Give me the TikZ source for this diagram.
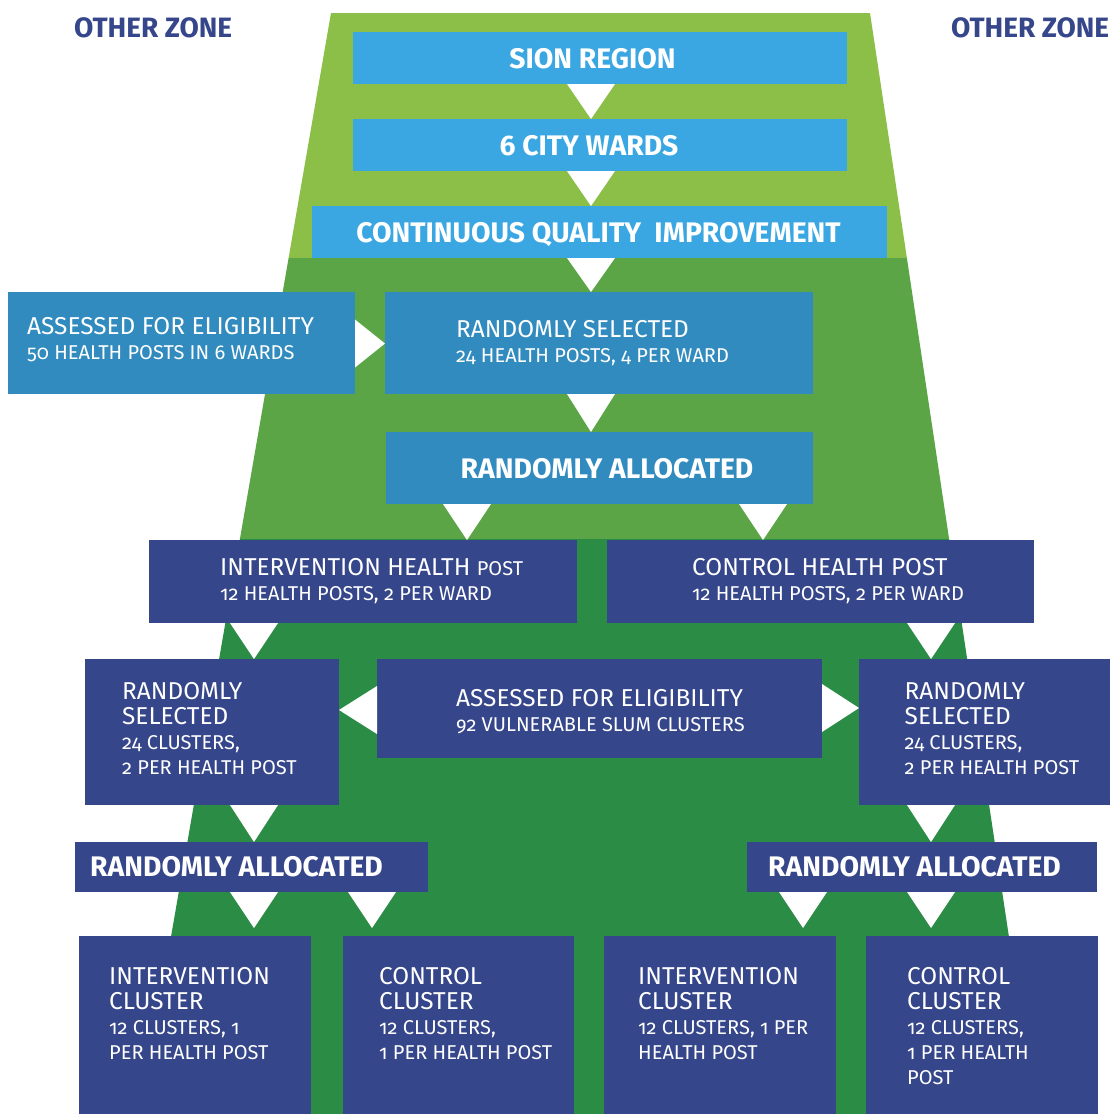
\documentclass[tikz,border=0pt]{standalone}
\usepackage{fontspec}
\setmainfont{Fira Sans}[Numbers=OldStyle]
\usepackage{tikz}
\usetikzlibrary{positioning}
\definecolor{leaf}{HTML}{8BBF47}
\definecolor{grass}{HTML}{5BA546}
\definecolor{forest}{HTML}{2B8C45}
\definecolor{sky}{HTML}{3AA7E3}
\definecolor{sea}{HTML}{318BBF}
\definecolor{ink}{HTML}{36468A}
\newcommand*{\subl}[1]{{\fontsize{20}{25}\selectfont #1}}
\newcommand*{\dtri}[3]{\fill[white] ({#1-24},0 |- #2) -- ({#1+24},0 |- #2) -- (#1,0 |- #3) -- cycle;}
\newcommand*{\stri}[3]{\fill[white] (#2 |- 0,{#1-24}) -- (#2 |- 0,{#1+24}) -- (#3 |- 0,#1) -- cycle;}

\begin{document}
\begin{tikzpicture}[x=1pt,y=-1pt,
    box/.style={inner sep=0pt,outer sep=0pt},
    skybox/.style={box,fill=sky},
    seabox/.style={box,fill=sea},
    inkbox/.style={box,fill=ink},
    bold/.style={text=white,inner sep=0pt,font=\bfseries\fontsize{28.3}{30}\selectfont},
    txt/.style={text=white,inner sep=0pt,align=left,font=\fontsize{24.4}{25}\selectfont},
    zone/.style={text=ink,inner sep=0pt,font=\bfseries\fontsize{28}{30}\selectfont}]
    \useasboundingbox (0,0) rectangle (1110,1114);

    % the zone behind
    \fill[leaf] (331,13) -- (870,13) -- (906.9,258) -- (288.6,258) -- cycle;
    \fill[grass] (288.6,258) -- (906.9,258) -- (949.1,539) -- (239.9,539) -- cycle;
    \fill[forest] (239.9,539) -- (949.1,539) -- (1035.6,1114) -- (140.3,1114) -- cycle;
    \node[zone] (zonel) at (74,37) [anchor=base west] {OTHER ZONE};
    \node[zone] (zoner) at (951,37) [anchor=base west] {OTHER ZONE};

    \node[skybox,minimum width=494pt,minimum height=52pt] (sion) at (600,58) {};
    \node[skybox,minimum width=494pt,minimum height=52pt] (wards) at (600,145) {};
    \node[skybox,minimum width=575pt,minimum height=52pt] (cqi) at (599.5,232) {};
    \node[seabox,minimum width=347pt,minimum height=102pt] (assess) at (181.5,343) {};
    \node[seabox,minimum width=428pt,minimum height=102pt] (rsel) at (599,343) {};
    \node[seabox,minimum width=427pt,minimum height=72pt] (ralloc) at (599.5,468) {};
    \node[inkbox,minimum width=428pt,minimum height=83pt] (ihp) at (363,581.5) {};
    \node[inkbox,minimum width=427pt,minimum height=83pt] (chp) at (820.5,581.5) {};
    \node[inkbox,minimum width=254pt,minimum height=146pt] (rsl) at (212,732) {};
    \node[inkbox,minimum width=445pt,minimum height=99pt] (slum) at (599.5,708.5) {};
    \node[inkbox,minimum width=251pt,minimum height=146pt] (rsr) at (984.5,732) {};
    \node[inkbox,minimum width=353pt,minimum height=50pt] (rall) at (251.5,867) {};
    \node[inkbox,minimum width=350pt,minimum height=50pt] (ralr) at (922,867) {};
    \node[inkbox,minimum width=232pt,minimum height=178pt] (icl) at (195,1025) {};
    \node[inkbox,minimum width=231pt,minimum height=178pt] (ccl) at (458.5,1025) {};
    \node[inkbox,minimum width=232pt,minimum height=178pt] (icr) at (720,1025) {};
    \node[inkbox,minimum width=232pt,minimum height=178pt] (ccr) at (982,1025) {};

    % texts
    \node[bold,anchor=base] (siontxt) at ([xshift=-7.5pt,yshift=-10pt]sion.center) {SION REGION};
    \node[bold,anchor=base] (wardstxt) at ([xshift=-11pt,yshift=-10pt]wards.center) {6 CITY WARDS};
    \node[bold,anchor=base] (cqitxt) at ([xshift=-1pt,yshift=-10pt]cqi.center) {CONTINUOUS QUALITY\ \ IMPROVEMENT};
    \node[bold,anchor=base] (ralloctxt) at ([xshift=7.5pt,yshift=-10pt]ralloc.center) {RANDOMLY ALLOCATED};
    \node[txt] (assesstxt) [below right=25pt and 19pt of assess.north west] {ASSESSED FOR ELIGIBILITY\\\subl{50 HEALTH POSTS IN 6 WARDS}};
    \node[txt] (rseltxt) [below right=28pt and 71pt of rsel.north west] {RANDOMLY SELECTED\\\subl{24 HEALTH POSTS, 4 PER WARD}};
    \node[txt] (ihptxt) [below right=18pt and 71pt of ihp.north west] {INTERVENTION HEALTH \subl{POST}\\\subl{12 HEALTH POSTS, 2 PER WARD}};
    \node[txt] (chptxt) [below right=18pt and 85pt of chp.north west] {CONTROL HEALTH POST\\\subl{12 HEALTH POSTS, 2 PER WARD}};
    \node[txt] (rsltxt) [below right=23pt and 37pt of rsl.north west] {RANDOMLY\\SELECTED\\\subl{24 CLUSTERS,}\\\subl{2 PER HEALTH POST}};
    \node[txt] (slumtxt) [below right=30pt and 79pt of slum.north west] {ASSESSED FOR ELIGIBILITY\\\subl{92 VULNERABLE SLUM CLUSTERS}};
    \node[txt] (rsrtxt) [below right=23pt and 45.5pt of rsr.north west] {RANDOMLY\\SELECTED\\\subl{24 CLUSTERS,}\\\subl{2 PER HEALTH POST}};
    \node[bold] (ralltxt) [below right=14pt and 15pt of rall.north west] {RANDOMLY ALLOCATED};
    \node[bold] (ralrtxt) [below right=14pt and 21pt of ralr.north west] {RANDOMLY ALLOCATED};
    \node[txt] (icltxt) [below right=31pt and 30pt of icl.north west] {INTERVENTION\\CLUSTER\\\subl{12 CLUSTERS, 1}\\\subl{PER HEALTH POST}};
    \node[txt] (ccltxt) [below right=31pt and 36pt of ccl.north west] {CONTROL\\CLUSTER\\\subl{12 CLUSTERS,}\\\subl{1 PER HEALTH POST}};
    \node[txt] (icrtxt) [below right=31pt and 34pt of icr.north west] {INTERVENTION\\CLUSTER\\\subl{12 CLUSTERS, 1 PER}\\\subl{HEALTH POST}};
    \node[txt] (ccrtxt) [below right=31pt and 41pt of ccr.north west] {CONTROL\\CLUSTER\\\subl{12 CLUSTERS,}\\\subl{1 PER HEALTH}\\\subl{POST}};

    % white arrow heads
    \dtri{591}{sion.south}{wards.north}
    \dtri{591}{wards.south}{cqi.north}
    \dtri{591}{cqi.south}{rsel.north}
    \dtri{591}{rsel.south}{ralloc.north}
    \dtri{467}{ralloc.south}{ihp.north}
    \dtri{763}{ralloc.south}{chp.north}
    \dtri{254}{ihp.south}{rsl.north}
    \dtri{931}{chp.south}{rsr.north}
    \dtri{254}{rsl.south}{rall.north}
    \dtri{931}{rsr.south}{ralr.north}
    \coordinate (gap) at (0,928);
    \dtri{254}{rall.south}{gap}
    \dtri{372}{rall.south}{gap}
    \dtri{803}{ralr.south}{gap}
    \dtri{931}{ralr.south}{gap}
    \stri{343.5}{assess.east}{rsel.west}
    \stri{710}{slum.west}{rsl.east}
    \stri{708}{slum.east}{rsr.west}
\end{tikzpicture}
\end{document}
